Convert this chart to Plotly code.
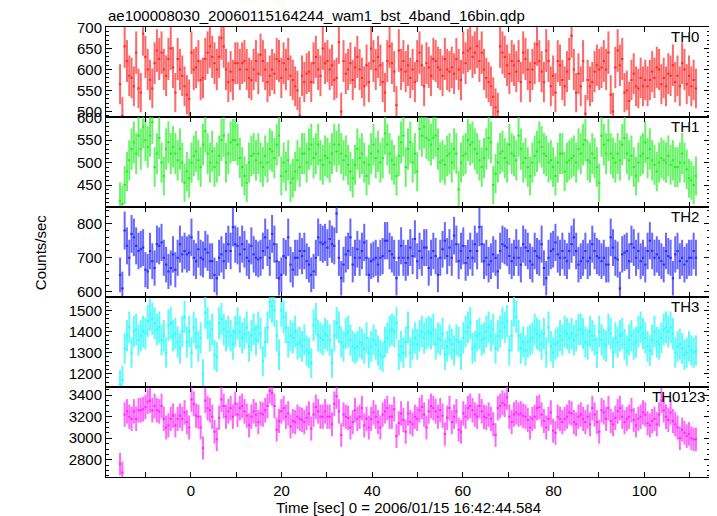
import numpy as np
import plotly.graph_objects as go
from plotly.subplots import make_subplots

TITLE = "ae100008030_20060115164244_wam1_bst_4band_16bin.qdp"
X_TITLE = "Time [sec] 0 = 2006/01/15 16:42:44.584"
Y_TITLE = "Counts/sec"
PANELS = ["TH0", "TH1", "TH2", "TH3", "TH0123"]
T_START = -15.6
T_END = 111.4
BIN_SEC = 0.25  # exposure per bin used for Poisson errors

th0 = [565,490,655,620,585,580,560,640,555,545,685,630,600,575,555,615,645,625,640,600,585,625,650,605,545,625,600,585,560,540,530,
       640,600,605,620,575,580,625,640,655,630,615,600,630,675,655,600,570,595,575,615,615,600,615,620,600,580,575,600,620,590,635,
       620,600,570,585,600,590,625,620,580,615,600,625,585,575,560,550,490,585,570,590,595,570,615,630,600,585,650,615,620,600,610,
       575,580,665,500,620,590,600,615,575,605,630,600,580,560,610,570,650,620,600,630,610,570,545,620,655,615,595,515,645,600,620,595,
       610,580,600,570,620,640,610,560,615,605,585,625,620,605,600,585,625,600,595,605,590,625,600,575,640,615,645,650,630,640,655,
       620,640,600,580,570,560,535,510,500,655,640,630,610,590,620,610,595,620,570,640,625,600,570,600,615,660,620,595,570,645,620,
       560,585,545,620,610,575,560,595,625,680,600,545,590,560,620,495,575,560,570,595,610,600,605,620,600,640,540,500,605,645,610,
       625,545,550,525,575,590,560,555,580,560,575,560,575,595,580,605,600,565,580,560,590,585,610,570,585,560,615,600,565,585,560,575,555]

th1 = [415,408,450,480,505,530,545,520,560,530,580,550,535,560,590,490,520,555,500,470,530,545,520,535,520,505,530,500,455,480,465,
       500,515,525,505,490,540,570,520,500,525,490,500,515,550,560,500,520,545,550,550,540,510,490,470,455,500,515,520,505,520,500,
       490,515,500,530,525,510,540,560,470,500,480,505,455,465,480,505,490,520,520,500,530,540,510,520,540,505,495,515,510,500,520,
       540,525,540,520,505,515,495,480,465,495,530,510,520,500,470,495,520,540,510,525,500,510,565,540,520,505,495,470,515,545,560,490,
       530,545,500,520,480,575,560,580,555,550,540,555,560,530,500,505,495,515,520,500,530,520,440,500,515,520,550,540,545,530,520,
       505,490,510,530,555,545,450,475,500,520,525,510,500,540,520,515,505,560,530,500,510,490,470,500,515,525,545,535,520,515,500,
       505,490,470,500,520,520,480,500,505,510,515,500,530,520,540,550,505,500,520,510,490,455,560,540,520,550,520,510,500,520,505,
       540,555,520,505,515,490,470,500,515,520,545,510,530,505,495,480,500,510,505,500,515,495,505,490,490,500,520,500,485,465,460,450,470]

th2 = [650,610,780,735,700,770,760,735,720,725,730,665,660,720,690,670,740,735,745,700,680,660,670,710,665,700,740,710,720,710,715,
       760,700,690,725,700,695,725,715,690,690,650,640,700,710,690,720,740,720,790,740,735,710,740,725,700,690,735,710,700,695,700,
       720,760,730,700,770,740,690,640,650,705,700,760,680,665,700,700,720,705,720,690,680,650,660,700,760,745,740,745,730,755,740,
       735,830,700,640,680,710,720,760,680,700,725,700,720,745,700,650,690,695,700,680,700,705,750,750,720,710,700,640,700,735,700,685,
       700,730,705,755,690,720,700,730,730,670,700,720,705,650,700,725,750,705,730,700,765,740,690,720,735,685,700,720,700,740,720,
       790,740,690,700,680,690,710,700,660,720,740,735,730,705,690,700,730,700,680,740,730,720,690,680,720,705,700,740,670,640,700,
       720,725,745,710,700,720,700,690,720,740,760,720,680,690,700,720,690,700,740,720,705,700,690,700,680,680,760,730,700,695,610,
       710,715,720,690,740,730,700,720,690,700,680,720,750,720,700,710,700,690,680,720,705,700,640,710,720,690,700,680,690,700,700,720,700]

th3 = [1150,1170,1320,1380,1420,1300,1400,1410,1360,1380,1400,1390,1450,1480,1460,1440,1410,1420,1360,1380,1300,1430,1440,1380,
       1390,1350,1320,1400,1470,1350,1400,1300,1420,1390,1330,1370,1200,1490,1440,1380,1410,1290,1280,1440,1460,1410,1380,1400,
       1380,1340,1400,1440,1400,1370,1390,1420,1330,1380,1410,1360,1420,1390,1260,1350,1420,1540,1520,1500,1380,1290,1500,1470,
       1420,1350,1380,1370,1400,1340,1350,1330,1360,1310,1300,1250,1430,1460,1380,1370,1360,1390,1380,1360,1250,1380,1440,1420,
       1350,1330,1390,1400,1360,1330,1320,1330,1350,1340,1320,1370,1300,1330,1360,1340,1310,1290,1280,1350,1370,1400,1410,1400,
       1440,1290,1330,1300,1350,
       1420,1300,1340,1370,1340,1380,1400,1370,1390,1400,1390,1410,1340,1370,1360,1390,1290,1330,1360,1340,1310,1360,1350,1290,
       1370,1400,1420,1440,1320,1330,1380,1390,1360,1370,1400,1420,1380,1410,1320,1380,1400,1440,1420,1450,1310,1380,1500,1470,
       1380,1320,1350,1310,1350,1360,1370,1410,1390,1380,1340,1390,1300,1420,1330,1300,1340,1350,1380,1360,1400,1390,1370,1390,
       1360,1380,1410,1410,1390,1350,1340,1400,1380,1360,1300,1400,1360,1340,1330,1410,1390,1300,1370,1350,1380,1390,1340,1310,
       1360,1380,1340,1350,1400,1420,1390,1370,1330,1310,1360,1400,1350,1340,1370,1410,1420,1400,1420,1390,1300,1330,1340,1320,
       1290,1300,1330,1310,1300,1310]

th0123 = [2760,2680,3220,3250,3200,3180,3250,3180,3260,3260,3270,3290,3340,3350,3260,3300,3260,3250,3300,3180,3100,3120,3180,
          3210,3120,3180,3210,3180,3240,3150,3100,3360,3320,3210,3200,3100,2910,3350,3280,3260,3200,3060,2990,3190,3360,3300,
          3200,3250,3280,3200,3320,3220,3280,3300,3250,3210,3120,3200,3250,3220,3150,3230,3220,3260,3300,3440,3420,3300,3080,
          3160,3250,3280,3200,3230,3110,3160,3150,3200,3180,3170,3150,3190,3230,3090,3220,3290,3250,3200,3200,3250,3200,3200,
          3130,3320,3390,3250,3030,3220,3200,3190,3100,3150,3260,3180,3200,3280,3120,3180,3100,3180,3240,3200,3150,3100,3220,
          3250,3280,3200,3200,3270,3020,3140,3230,3170,3060,
          3230,3150,3130,3200,3180,3260,3290,3220,3100,3250,3300,3280,3250,3200,3260,3210,3040,3190,3280,3150,3200,3250,3080,
          3060,3230,3200,3280,3300,3260,3220,3200,3300,3250,3200,3190,3220,3180,3130,3030,3280,3300,3330,3310,3380,3200,3150,
          3220,3240,3220,3230,3210,3200,3170,3100,3180,3200,3280,3290,3220,3160,3100,3180,3240,3070,3050,3200,3180,3150,3180,
          3200,3240,3230,3150,3130,3200,3220,3180,3150,3200,3130,3280,3220,3150,3060,3260,3240,3180,3280,3160,3130,3190,3250,
          3280,3200,3150,3180,3200,3260,3170,3120,3180,3200,3240,3220,3140,3120,3160,3180,3130,3220,3350,3260,3200,3170,3240,
          3160,3130,3100,3000,3080,3050,3020,3040,3000,2990,2990]

SERIES = [th0, th1, th2, th3, th0123]
COLORS = ["#ff2a2a", "#2aee2a", "#2a2aff", "#2affff", "#ff2aff"]
ERR_COLORS = ["rgba(255,40,40,0.7)", "rgba(40,238,40,0.7)", "rgba(40,40,255,0.7)",
              "rgba(40,250,250,0.75)", "rgba(255,40,255,0.7)"]
Y_RANGES = [[487, 701], [401, 601.5], [585, 849], [1137, 1564], [2640, 3476]]
Y_DTICK = [50, 50, 100, 100, 200]
Y_MINOR = [10, 10, 20, 20, 50]
X_RANGE = [-18.7, 114.5]
LABEL_XSHIFT = [-9, -9, -9, -9, -3]

fig = make_subplots(rows=5, cols=1, shared_xaxes=True, vertical_spacing=0)
font = dict(family="Liberation Sans, Arial, sans-serif", size=15, color="black")

for i, vals in enumerate(SERIES):
    v = np.array(vals, dtype=float)
    t = np.linspace(T_START, T_END, len(v))
    half = (T_END - T_START) / (len(v) - 1) / 2
    err = np.sqrt(v * BIN_SEC) / BIN_SEC
    fig.add_trace(go.Scatter(
        x=t, y=v, mode="markers",
        marker=dict(size=2, color=COLORS[i], opacity=0),
        error_y=dict(type="data", array=err, visible=True, width=0,
                     thickness=2, color=ERR_COLORS[i]),
        error_x=dict(type="constant", value=half, visible=True, width=0,
                     thickness=2, color=COLORS[i]),
        showlegend=False, hoverinfo="skip"), row=i + 1, col=1)
    fig.update_yaxes(range=Y_RANGES[i], dtick=Y_DTICK[i], tick0=0,
                     minor=dict(dtick=Y_MINOR[i], ticklen=3, ticks="inside", tickcolor="black"),
                     row=i + 1, col=1)
    fig.add_annotation(text=PANELS[i], xref=f"x{i+1 if i else ''} domain", yref=f"y{i+1 if i else ''} domain",
                       x=1, y=1, xanchor="right", yanchor="top", xshift=LABEL_XSHIFT[i], yshift=1,
                       showarrow=False, font=font)

fig.update_yaxes(showline=True, mirror="allticks", linecolor="black", linewidth=1,
                 ticks="inside", ticklen=6, tickcolor="black", showgrid=False, zeroline=False,
                 tickfont=font)
fig.update_xaxes(showline=True, mirror="allticks", linecolor="black", linewidth=1,
                 ticks="inside", ticklen=5, tickcolor="black", showgrid=False, zeroline=False,
                 range=X_RANGE, dtick=20, tick0=0,
                 minor=dict(dtick=10, ticklen=5, ticks="inside", tickcolor="black"),
                 tickfont=font)

fig.add_annotation(text=TITLE, xref="paper", yref="paper", x=0, y=1, xanchor="left",
                   yanchor="bottom", yshift=1, showarrow=False, font=font)
fig.add_annotation(text=Y_TITLE, xref="paper", yref="paper", x=-0.109, y=0.5, textangle=-90,
                   xanchor="center", yanchor="middle", showarrow=False, font=font)
fig.add_annotation(text=X_TITLE, xref="paper", yref="paper", x=0.5, y=-0.067,
                   xanchor="center", yanchor="middle", showarrow=False, font=font)

# the page body has an 8px default margin, so the figure is drawn 8px smaller
fig.update_layout(width=709, height=508, margin=dict(l=98, r=7, t=19, b=39),
                  paper_bgcolor="white", plot_bgcolor="white", font=font)

fig.write_html("out.html")
